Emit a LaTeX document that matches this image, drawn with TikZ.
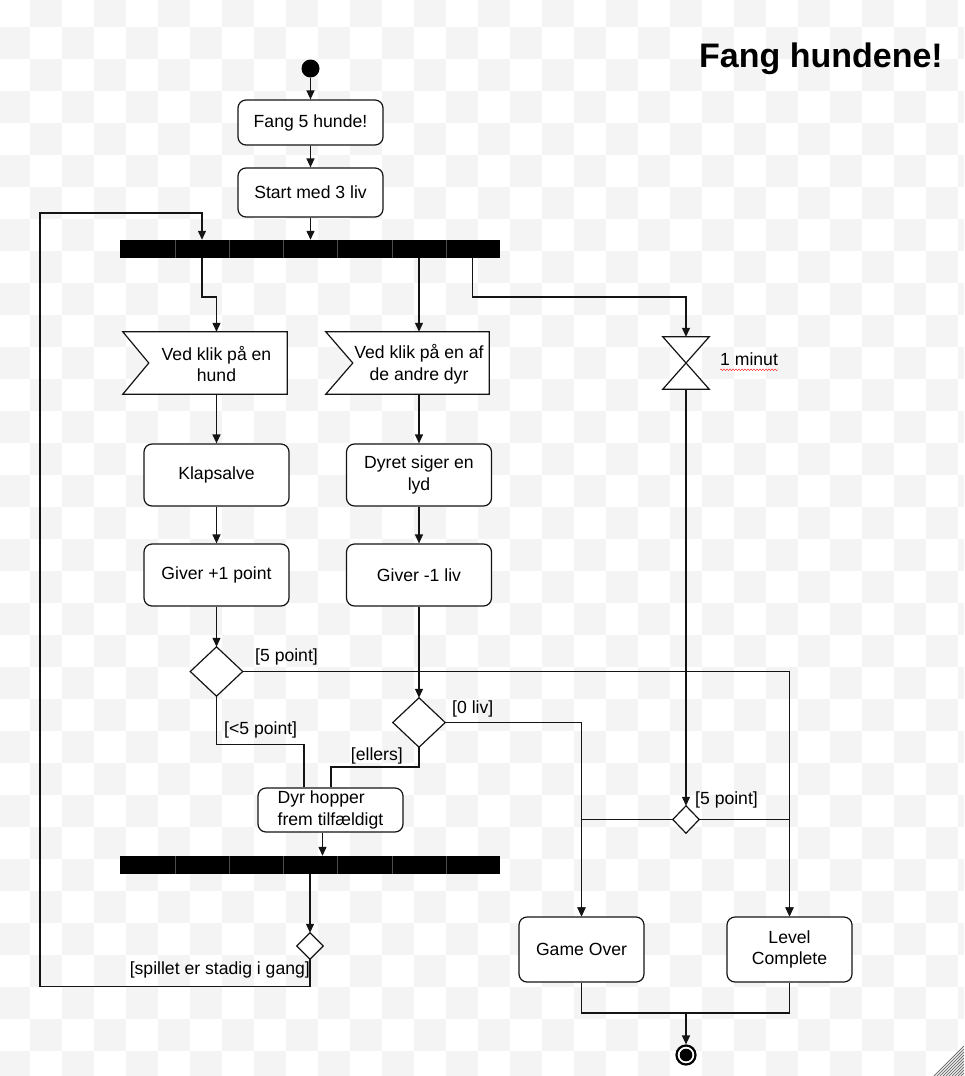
\documentclass[tikz,border=0pt]{standalone}
\usepackage{fontspec}
\setmainfont{Liberation Sans}
\usetikzlibrary{arrows.meta,decorations.pathmorphing}
\newcommand\dgmfont{\fontsize{17.6}{21.5}\selectfont}
\definecolor{chk}{gray}{0.955}
\definecolor{ink}{gray}{0.08}

\begin{document}
\begin{tikzpicture}[x=1pt,y=-1pt,
  line/.style={draw=ink, line width=1.2pt},
  arr/.style={line, -{Triangle[length=9pt,width=8pt]}},
  act/.style={draw=ink, line width=1.2pt, fill=white, rounded corners=8pt,
    minimum width=145pt, align=center, inner sep=0pt, font=\dgmfont},
  evtbox/.style={minimum width=164pt, minimum height=62pt, inner sep=0pt},
  hgbox/.style={minimum width=46pt, minimum height=52pt, inner sep=0pt},
  diabox/.style={minimum width=52pt, minimum height=49pt, inner sep=0pt},
  forkbar/.style={fill=black, minimum width=380pt, minimum height=18pt, inner sep=0pt},
  lbl/.style={inner sep=0pt, align=center, font=\dgmfont},
  startdot/.style={circle, fill=black, minimum size=18pt, inner sep=0pt},
  endring/.style={circle, draw=black, line width=2.2pt, fill=white, minimum size=19pt, inner sep=0pt},
  sep/.style={draw=black!70, line width=0.7pt}
]
\useasboundingbox (0,0) rectangle (964,1076);

% checkered backdrop
\begin{scope}
  \clip (0,0) rectangle (964,1076);
  \fill[white] (0,0) rectangle (964,1076);
  \foreach \i in {0,...,30}{
    \foreach \j in {0,...,34}{
      \ifodd\numexpr\i+\j\relax
        \fill[chk] (-2+32*\i,-5+32*\j) rectangle ++(32,32);
      \fi
    }
  }
  % resize grip in the corner
  \foreach \k in {3,6,...,30}{
    \draw[black!55, line width=1pt] (964-\k,1076) -- (964,1076-\k);
  }
\end{scope}

% title
\node[font=\bfseries\fontsize{34}{40}\selectfont, anchor=base east, inner sep=0pt]
  (title) at (943,67) {Fang hundene!};

% start and first actions
\node[startdot] (start) at (310.5,68.5) {};
\node[act, minimum height=45pt] (b1) at (310.5,122.5) {Fang 5 hunde!};
\node[act, minimum height=49pt] (b2) at (310.5,192.5) {Start med 3 liv};

% fork bar
\node[forkbar] (fork) at (310,249) {};
\foreach \sx in {175,229,283,337,392,446} \draw[sep] (\sx,240) -- (\sx,258);

% accept-event shapes
\node[evtbox] (e1) at (205,363) {};
\filldraw[fill=white, line] (e1.north west) -- (e1.north east) -- (e1.south east)
  -- (e1.south west) -- ([xshift=26pt]e1.west) -- cycle;
\node[lbl] (e1t) at (216.5,364) {Ved klik på en\\hund};

\node[evtbox, minimum width=163pt] (e2) at (407.5,363) {};
\filldraw[fill=white, line] (e2.north west) -- (e2.north east) -- (e2.south east)
  -- (e2.south west) -- ([xshift=27pt]e2.west) -- cycle;
\node[lbl] (e2t) at (419,364) {Ved klik på en af\\de andre dyr};

% time event
\node[hgbox] (hg) at (686,363) {};
\filldraw[fill=white, line] (hg.north west) -- (hg.north east) -- (hg.south west)
  -- (hg.south east) -- cycle;
\node[lbl, anchor=west] (hgt) at (720,359) {1 minut};
\draw[red!80, line width=0.5pt, decorate,
  decoration={snake, amplitude=0.8pt, segment length=3pt}]
  ([yshift=-4.5pt]hgt.base west) -- ([yshift=-4.5pt]hgt.base east);

% actions
\node[act, minimum height=62pt] (kl) at (216.5,475) {Klapsalve};
\node[act, minimum height=62pt] (gp) at (216.5,575) {Giver +1 point};
\node[act, minimum height=62pt] (dy) at (419,475) {Dyret siger en\\lyd};
\node[act, minimum height=62pt] (gl) at (419,575) {Giver -1 liv};

% decisions
\node[diabox] (d1) at (216.5,671.5) {};
\node[diabox] (d2) at (419,722.5) {};
\node[diabox, minimum width=26pt, minimum height=26pt] (d3) at (310,946) {};
\node[diabox, minimum width=26pt, minimum height=27pt] (d4) at (686,819.5) {};
\foreach \d in {d1,d2,d3,d4}
  \filldraw[fill=white, line] (\d.north) -- (\d.east) -- (\d.south) -- (\d.west) -- cycle;

\node[act, minimum height=44pt, align=left] (dh) at (330.5,810) {Dyr hopper\\frem tilfældigt};

% join bar
\node[forkbar] (join) at (310,865) {};
\foreach \sx in {175,229,283,337,392,446} \draw[sep] (\sx,856) -- (\sx,874);

% final actions and end
\node[act, minimum width=125pt, minimum height=65pt] (go) at (581.5,949.5) {Game Over};
\node[act, minimum width=125pt, minimum height=65pt] (lc) at (789.5,949.5) {Level\\Complete};
\node[endring] (fin) at (686,1055) {};
\fill (fin.center) circle[radius=6.3pt];

% connectors
\draw[arr] (start) -- (b1);
\draw[arr] (b1) -- (b2);
\draw[arr] (b2) -- (b2 |- fork.north);

\coordinate (lb) at (40,986.5);
\coordinate (lt) at (202,213);
\draw[arr] (d3.south) |- (lb) |- (lt) -- (lt |- fork.north);

\coordinate (s1) at (202,297);
\draw[arr] (fork.south -| s1) -- (s1) -| (e1t |- e1.north);
\draw[arr] (fork.south -| e2t) -- (e2t |- e2.north);
\coordinate (s3) at (472.5,297);
\draw[arr] (fork.south -| s3) -- (s3) -| (hg.north);

\draw[arr] (e1t |- e1.south) -- (kl);
\draw[arr] (kl) -- (gp);
\draw[arr] (gp) -- (d1.north);
\draw[arr] (e2t |- e2.south) -- (dy);
\draw[arr] (dy) -- (gl);
\draw[arr] (gl) -- (d2.north);

\coordinate (dl) at (304,744.5);
\coordinate (dr) at (331,767);
\draw[line] (d1.south) |- (dl) -- (dl |- dh.north);
\draw[line] (d2.south) |- (dr) -- (dr |- dh.north);

\draw[arr] (d1.east) -| (lc.north);
\draw[arr] (d2.east) -| (go.north);
\draw[arr] (hg.south) -- (d4.north);
\draw[arr] (d4.west) -| (go.north);
\draw[arr] (d4.east) -| (lc.north);

\coordinate (dj) at (322.5,832);
\draw[arr] (dh.south -| dj) -- (dj |- join.north);
\draw[arr] (join.south -| d3) -- (d3.north);

\coordinate (mrg) at (686,1013);
\draw[line] (go.south) |- (mrg) -| (lc.south);
\draw[arr] (mrg) -- (fin);

% guard labels
\node[lbl, anchor=west] (g1) at (255,657) {[5 point]};
\node[lbl, anchor=west] (g2) at (224,730) {[<5 point]};
\node[lbl, anchor=east] (g3) at (403,756) {[ellers]};
\node[lbl, anchor=west] (g4) at (452,709) {[0 liv]};
\node[lbl, anchor=west] (g5) at (695,800) {[5 point]};
\node[lbl, anchor=east] (g6) at (310,970) {[spillet er stadig i gang]};
\end{tikzpicture}
\end{document}
